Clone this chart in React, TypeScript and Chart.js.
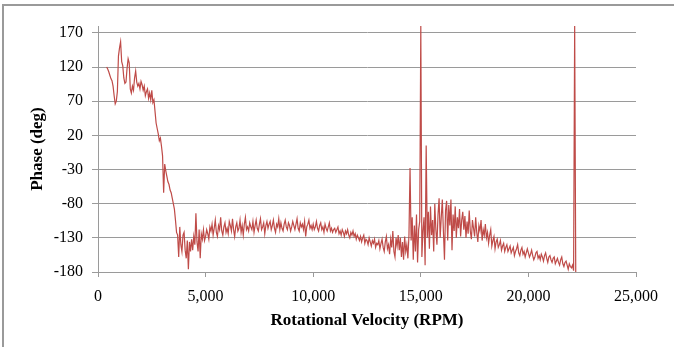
import React, { useEffect, useRef } from "react";
import { Chart, registerables } from "chart.js";

Chart.register(...registerables);

// Sweep: rotational velocity from 400 RPM in 50 RPM steps
const RPM_START = 400;
const RPM_STEP = 50;

// Phase (deg), one value per 50 RPM
const PHASE_400_950 = [120, 117, 113, 108, 103, 100, 92, 78, 66, 70, 84, 136];
const PHASE_1000_4950 = [
  148, 157, 128, 122, 104, 96, 98, 118, 132, 126, 88, 82, 92, 86, 104, 114, 98, 92, 96, 88,
  99, 94, 86, 92, 78, 84, 88, 74, 82, 72, 86, 68, 72, 55, 38, 30, 22, 12, 16, 4,
  -10, -64, -22, -32, -40, -48, -52, -60, -64, -72, -80, -88, -104, -122, -126, -158, -114, -140, -150, -126,
  -122, -148, -160, -134, -176, -136, -150, -132, -148, -128, -140, -94, -136, -150, -118, -160, -124, -132, -118, -134,
];
const PHASE_5000_9950 = [
  -128, -118, -124, -132, -114, -120, -110, -126, -116, -104, -122, -128, -112, -118, -100, -120, -126, -114, -108, -122,
  -116, -124, -106, -112, -120, -102, -118, -128, -114, -108, -120, -116, -104, -122, -112, -126, -110, -100, -118, -114,
  -120, -108, -114, -118, -106, -122, -112, -104, -116, -120, -110, -102, -118, -114, -108, -124, -112, -106, -116, -110,
  -106, -118, -112, -104, -116, -122, -110, -114, -102, -118, -108, -116, -120, -110, -104, -114, -118, -108, -112, -120,
  -114, -106, -112, -118, -110, -102, -116, -120, -108, -114, -110, -118, -106, -128, -114, -110, -104, -116, -112, -118,
];
const PHASE_10000_13950 = [
  -110, -118, -114, -106, -116, -120, -112, -108, -118, -114, -122, -110, -116, -120, -114, -108, -120, -116, -122, -118,
  -116, -122, -118, -114, -124, -120, -126, -118, -122, -128, -120, -124, -118, -126, -130, -122, -126, -120, -128, -124,
  -132, -126, -130, -134, -128, -136, -130, -126, -138, -132, -134, -140, -130, -136, -142, -134, -138, -132, -144, -138,
  -140, -134, -146, -138, -132, -144, -150, -136, -128, -146, -140, -154, -132, -144, -120, -150, -158, -130, -142, -126,
];
const PHASE_14000_17950 = [
  -148, -130, -158, -136, -162, -128, -150, -140, -160, -126, -28, -134, -100, -162, -112, -150, -96, -166, -118, -106,
  180, -158, -120, -100, -170, 5, -130, -92, -146, -84, -126, -104, -150, -80, -118, -140, -96, -72, -130, -100,
  -74, -120, -162, -90, -76, -134, -82, -112, -74, -148, -96, -120, -84, -130, -100, -116, -88, -128, -104, -92,
  -118, -98, -130, -106, -124, -90, -120, -132, -104, -116, -128, -100, -122, -136, -112, -120, -104, -134, -118, -126,
];
const PHASE_18000_22200 = [
  -110, -130, -122, -138, -126, -118, -142, -134, -128, -146, -136, -132, -144, -140, -134, -148, -142, -138, -150, -144,
  -140, -150, -146, -142, -152, -148, -144, -156, -150, -146, -140, -152, -156, -148, -144, -154, -150, -158, -152, -146,
  -152, -158, -154, -148, -156, -162, -158, -152, -150, -160, -156, -162, -154, -158, -164, -156, -152, -160, -166, -158,
  -156, -162, -166, -160, -158, -168, -164, -160, -166, -170, -162, -158, -168, -172, -166, -164, -170, -176, -168, -172,
  -174, -170, -178, 180, -180,
];

const PHASE = [
  ...PHASE_400_950,
  ...PHASE_1000_4950,
  ...PHASE_5000_9950,
  ...PHASE_10000_13950,
  ...PHASE_14000_17950,
  ...PHASE_18000_22200,
];

const Y_TICKS = [-180, -130, -80, -30, 20, 70, 120, 170];
const X_MIN = 0;
const X_MAX = 25000;
const X_STEP = 5000;

const GRID = "#9a9a9a";
const LINE = "#BF4B48";
const FONT = "'Liberation Serif', 'Times New Roman', serif";

export default function App() {
  const ref = useRef<HTMLCanvasElement | null>(null);

  useEffect(() => {
    if (!ref.current) return;
    const points = PHASE.map((p, i) => ({ x: RPM_START + i * RPM_STEP, y: p }));
    const chart = new Chart(ref.current, {
      type: "line",
      data: {
        datasets: [
          {
            data: points,
            borderColor: LINE,
            borderWidth: 1.2,
            pointRadius: 0,
            tension: 0,
            fill: false,
          },
        ],
      },
      options: {
        animation: false,
        responsive: false,
        devicePixelRatio: 1,
        layout: { padding: { left: 0, right: 38, top: 26, bottom: 0 } },
        plugins: { legend: { display: false }, tooltip: { enabled: false } },
        scales: {
          x: {
            type: "linear",
            min: X_MIN,
            max: X_MAX,
            afterFit: (s: any) => {
              s.height = 75;
            },
            ticks: {
              stepSize: X_STEP,
              autoSkip: false,
              maxRotation: 0,
              color: "#000",
              padding: 10,
              font: { family: FONT, size: 16 },
              callback: (v: any) => Number(v).toLocaleString("en-US"),
            },
            grid: { drawOnChartArea: false, drawTicks: true, tickLength: 5, color: GRID },
            border: { display: true, color: GRID, width: 1 },
            title: {
              display: true,
              text: "Rotational Velocity (RPM)",
              color: "#000",
              font: { family: FONT, size: 17, weight: "bold" },
              padding: { top: 0, bottom: 16 },
            },
          },
          y: {
            min: -180,
            max: 180,
            afterFit: (s: any) => {
              s.width = 98;
            },
            afterBuildTicks: (s: any) => {
              s.ticks = Y_TICKS.map((v) => ({ value: v }));
            },
            ticks: {
              color: "#000",
              padding: 9,
              font: { family: FONT, size: 16 },
            },
            grid: { color: GRID, lineWidth: 1, tickLength: 6 },
            border: { display: true, color: GRID, width: 1 },
            title: {
              display: true,
              text: "Phase (deg)",
              color: "#000",
              font: { family: FONT, size: 17, weight: "bold" },
              padding: { top: 27, bottom: 0 },
            },
          },
        },
      },
    });
    return () => chart.destroy();
  }, []);

  return (
    <div style={{ position: "fixed", left: 0, top: 0, width: 674, height: 347, background: "#fff" }}>
      <canvas ref={ref} width={674} height={347} style={{ position: "absolute", left: 0, top: 0, width: 674, height: 347 }} />
      <div
        style={{
          position: "absolute",
          left: 2,
          top: 4,
          width: 700,
          height: 400,
          borderTop: "2px solid #9a9a9a",
          borderLeft: "2px solid #9a9a9a",
          pointerEvents: "none",
        }}
      />
    </div>
  );
}
